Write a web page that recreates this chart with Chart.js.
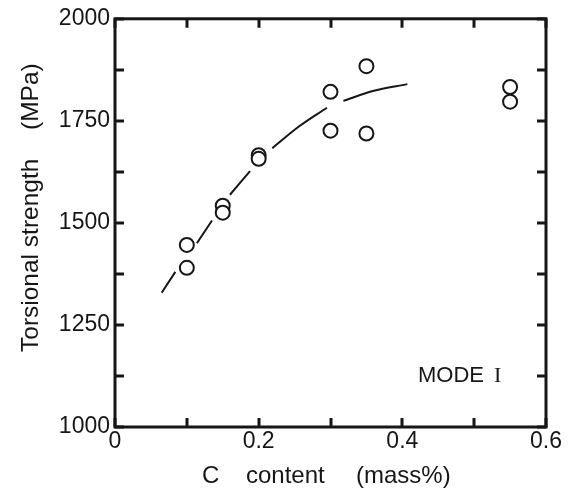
<!DOCTYPE html>
<html>
<head>
<meta charset="utf-8">
<script src="https://cdn.jsdelivr.net/npm/chart.js@4.4.1/dist/chart.umd.min.js"></script>
<style>
  html, body { margin: 0; padding: 0; background: #fff; }
</style>
</head>
<body>
<canvas id="chart" width="574" height="492"></canvas>
<script>
// measured specimens: C content (mass%) vs torsional strength (MPa)
const carbon = [0.1, 0.1, 0.15, 0.15, 0.2, 0.2, 0.3, 0.3, 0.35, 0.35, 0.55, 0.55];
const strength = [1446, 1390, 1542, 1525, 1666, 1657, 1821, 1726, 1884, 1719, 1833, 1797];

// hand-drawn trend line, broken (null) where it passes the circles
const curveC = [0.065, 0.084, 0.1, 0.114, 0.135, 0.15, 0.160, 0.188, 0.2, 0.219, 0.256, 0.295, 0.3, 0.318, 0.359, 0.407];
const curveS = [1329, 1380, null, 1450, 1506, null, 1569, 1627, null, 1683, 1736, 1782, null, 1799, 1823, 1840];

const xTicks = ['0', '0.2', '0.4', '0.6'];
const yTicks = ['1000', '1250', '1500', '1750', '2000'];

const ink = '#161616';
const sans = '"Liberation Sans", Arial, Helvetica, sans-serif';

Chart.defaults.font.family = sans;
Chart.defaults.color = ink;

// boxed frame with inward ticks on all four sides, plus the free text
const framePlugin = {
  id: 'frame',
  afterDraw(chart) {
    const { ctx, chartArea: a, scales } = chart;
    const len = 9;
    ctx.save();
    ctx.strokeStyle = ink;
    ctx.lineWidth = 3;
    ctx.lineCap = 'butt';
    ctx.beginPath();
    scales.x.ticks.forEach(t => {
      const px = Math.round(scales.x.getPixelForValue(t.value));
      ctx.moveTo(px, a.bottom); ctx.lineTo(px, a.bottom - len);
      ctx.moveTo(px, a.top); ctx.lineTo(px, a.top + len);
    });
    scales.y.ticks.forEach(t => {
      const py = Math.round(scales.y.getPixelForValue(t.value));
      ctx.moveTo(a.left, py); ctx.lineTo(a.left + len, py);
      ctx.moveTo(a.right, py); ctx.lineTo(a.right - len, py);
    });
    ctx.stroke();
    ctx.lineJoin = 'miter';
    ctx.strokeRect(a.left, a.top, a.right - a.left, a.bottom - a.top);

    ctx.fillStyle = ink;
    ctx.textBaseline = 'alphabetic';
    ctx.textAlign = 'left';

    // x title, words spread out
    ctx.font = '24px ' + sans;
    ctx.fillText('C', 202, 483);
    ctx.fillText('content', 246, 483);
    ctx.fillText('(mass%)', 356, 483);

    // y title, rotated, reading upwards
    ctx.save();
    ctx.translate(38, 352);
    ctx.rotate(-Math.PI / 2);
    ctx.font = '24.5px ' + sans;
    ctx.fillText('Torsional strength', 0, 0);
    ctx.fillText('(MPa)', 222, 0);
    ctx.restore();

    ctx.font = '22px ' + sans;
    ctx.fillText('MODE', 418, 382);
    ctx.font = '22px "Liberation Serif", "DejaVu Serif", serif';
    ctx.fillText('I', 494, 382);
    ctx.restore();
  }
};

new Chart(document.getElementById('chart'), {
  type: 'scatter',
  data: {
    datasets: [
      {
        label: 'specimens',
        data: carbon.map((c, i) => ({ x: c, y: strength[i] })),
        pointStyle: 'circle',
        pointRadius: 7,
        pointBorderWidth: 2,
        pointBackgroundColor: '#fff',
        pointBorderColor: ink,
        order: 1
      },
      {
        label: 'trend',
        type: 'line',
        data: curveC.map((c, i) => ({ x: c, y: curveS[i] })),
        borderColor: ink,
        borderWidth: 2,
        pointRadius: 0,
        cubicInterpolationMode: 'monotone',
        spanGaps: false,
        fill: false,
        order: 2
      }
    ]
  },
  options: {
    responsive: false,
    animation: false,
    devicePixelRatio: 1,
    layout: { padding: { top: 14, right: 28, left: 0, bottom: 0 } },
    plugins: { legend: { display: false }, tooltip: { enabled: false } },
    scales: {
      x: {
        type: 'linear',
        min: 0,
        max: 0.6,
        grid: { display: false, drawTicks: false },
        border: { display: false },
        ticks: {
          stepSize: 0.1,
          autoSkip: false,
          maxRotation: 0,
          padding: 1,
          font: { size: 23 },
          color: ink,
          callback: (v, i) => (i % 2 === 0 ? xTicks[i / 2] : '')
        },
        afterFit: s => { s.height = 65; }
      },
      y: {
        type: 'linear',
        min: 1000,
        max: 2000,
        grid: { display: false, drawTicks: false },
        border: { display: false },
        ticks: {
          stepSize: 125,
          autoSkip: false,
          padding: 5,
          font: { size: 23 },
          color: ink,
          callback: (v, i) => (i % 2 === 0 ? yTicks[i / 2] : '')
        },
        afterFit: s => { s.width = 115; }
      }
    }
  },
  plugins: [framePlugin]
});
</script>
</body>
</html>
